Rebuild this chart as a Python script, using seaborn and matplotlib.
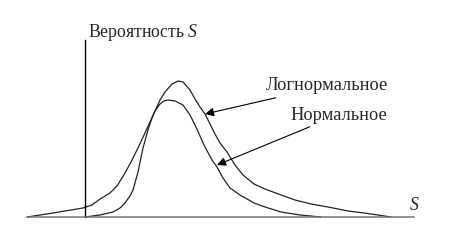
import matplotlib
matplotlib.use("Agg")
import matplotlib.pyplot as plt
import seaborn as sns
import pandas as pd

# Lognormal curve (S, probability)
logn_s = [0.0, 0.6, 1.12, 1.4, 1.6, 1.8, 1.92, 2.12, 2.32, 2.52, 2.68, 2.8, 3.0, 3.2, 3.48,
          3.72, 3.92, 4.2, 4.4, 4.6, 4.8, 5.0, 5.2, 5.4, 5.68, 6.0, 6.32, 6.76, 7.2, 7.84,
          8.4, 9.04, 9.72, 10.52, 11.16, 11.72, 12.24]
logn_p = [0.0, 0.02, 0.05, 0.09, 0.14, 0.21, 0.27, 0.45, 0.69, 0.87, 0.99, 1.06, 1.17, 1.25, 1.33,
          1.36, 1.35, 1.27, 1.18, 1.10, 1.03, 0.93, 0.83, 0.74, 0.65, 0.52, 0.42, 0.33, 0.28, 0.22,
          0.17, 0.13, 0.10, 0.06, 0.04, 0.02, 0.0]

# Normal curve (S, probability)
norm_s = [-2.32, -1.28, -0.08, 0.28, 0.6, 1.0, 1.28, 1.6, 1.84, 2.08, 2.4, 2.6, 2.8, 3.0, 3.16,
          3.32, 3.6, 3.92, 4.2, 4.4, 4.8, 5.08, 5.28, 5.52, 5.8, 6.2, 6.76, 7.2, 7.84, 8.6, 9.44]
norm_p = [0.0, 0.04, 0.09, 0.12, 0.18, 0.24, 0.31, 0.44, 0.55, 0.67, 0.84, 0.95, 1.06, 1.13, 1.16,
          1.17, 1.16, 1.12, 1.02, 0.92, 0.70, 0.57, 0.50, 0.39, 0.29, 0.22, 0.14, 0.10, 0.05, 0.02, 0.0]

y_label = "Вероятность "
x_label = "S"
names = ["Логнормальное", "Нормальное"]

df = pd.concat([
    pd.DataFrame({"S": logn_s, "P": logn_p, "dist": names[0]}),
    pd.DataFrame({"S": norm_s, "P": norm_p, "dist": names[1]}),
])

sns.set_theme(style="white")
plt.rcParams["font.family"] = ["Liberation Serif", "DejaVu Serif"]
plt.rcParams["mathtext.fontset"] = "custom"
plt.rcParams["mathtext.rm"] = "Liberation Serif"
plt.rcParams["mathtext.it"] = "Liberation Serif:italic"

fig = plt.figure(figsize=(4.62, 2.50), dpi=100)
ax = fig.add_axes([0, 0, 1, 1])
sns.lineplot(data=df, x="S", y="P", hue="dist", palette=["#222222", "#222222"],
             sort=False, estimator=None, linewidth=0.9, legend=False, ax=ax)

ax.set_xlim(-3.4, 15.08)
ax.set_ylim(-0.33, 2.17)
ax.set_xlabel("")
ax.set_ylabel("")
ax.set_xticks([])
ax.set_yticks([])
ax.patch.set_alpha(0)
for sp in ["top", "right"]:
    ax.spines[sp].set_visible(False)
ax.spines["left"].set_position(("data", 0))
ax.spines["left"].set_bounds(0, 1.77)
ax.spines["left"].set_color("black")
ax.spines["left"].set_linewidth(1.0)
ax.spines["bottom"].set_position(("data", 0))
ax.spines["bottom"].set_bounds(-2.32, 13.16)
ax.spines["bottom"].set_color("#777777")
ax.spines["bottom"].set_linewidth(1.1)

fs = 12.8
ax.text(0.12, 1.80, y_label + r"$S$", fontsize=fs, ha="left", va="baseline", fontstyle="normal")
ax.text(12.96, 0.07, r"$" + x_label + "$", fontsize=fs, ha="left", va="baseline")

ap = dict(arrowstyle="-|>", color="black", lw=0.8, mutation_scale=13, shrinkA=0, shrinkB=0)
fs2 = 13.2
ax.annotate(names[0], xy=(4.8, 1.03), xytext=(7.24, 1.31), fontsize=fs2, fontstyle="normal",
            ha="left", va="center", arrowprops=ap)
ax.annotate(names[1], xy=(5.28, 0.52), xytext=(8.2, 1.02), fontsize=fs2, fontstyle="normal",
            ha="left", va="center", arrowprops=ap)

fig.savefig("out.png", dpi=100)
